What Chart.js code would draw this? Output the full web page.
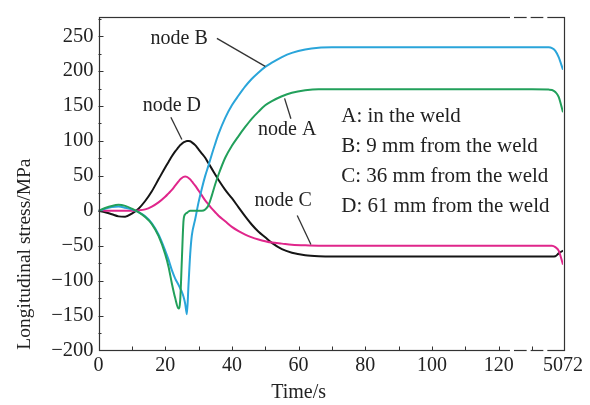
<!DOCTYPE html>
<html>
<head>
<meta charset="utf-8">
<script src="https://cdn.jsdelivr.net/npm/chart.js@4.4.1/dist/chart.umd.min.js"></script>
<style>
html,body{margin:0;padding:0;background:#fff;}
#wrap{width:590px;height:405px;position:relative;}
</style>
</head>
<body>
<div id="wrap"><canvas id="c" width="590" height="405"></canvas></div>
<script>
// ---- data (time in s; last point = 5072 s, drawn at the broken-axis end) ----
const times = [0,2,4,6,8,10,12,14,16,18,20,21,22,23,24,24.5,25,25.5,26,26.5,27,27.5,28,29,30,31,32,33,34,35,36,38,40,42,44,46,48,50,52,55,58,62,66,70,80,100,120,130,135,136,137,138,139.3];
const nodeA = [0,4,7,8.5,7,3,-2,-9,-19,-36,-62,-80,-104,-125,-140,-128,-70,-14,-5,-3,-1,0,0,0,0,0,2,8,22,38,52,76,93,107,120,132,142,151,157,164,169,172.5,174,174,174,174,174,174,173.5,173,170,163,141];
const nodeB = [0,3,5.5,6,4.5,2,-2,-8,-18,-34,-57,-70,-85,-97,-106,-111,-116,-123,-133,-148,-105,-62,-35,-12,12,32,50,65,81,96,110,133,151,165,178,189,198,206,212,220,226,231,233.5,234,234,234,234,234,234,233,229,220,202];
const nodeC = [0,0,0,0,0,0,0.5,2,6,12,20,25,30,36,42,45,47,48.5,49,48.5,47,45,42,36,29,22,15,9,3,-2,-7,-15,-23,-29,-34,-38,-41,-43.5,-45.5,-47,-48.5,-49.5,-50,-50,-50,-50,-50,-50,-50,-50,-52,-57,-77];
const nodeD = [0,-2,-5,-8,-8.5,-4,3,14,28,45,62,70,78,85,91,94,96,98,99,100,100,99.5,98,94,88,82,76,68,60,52,44,30,18,5,-8,-20,-30,-38,-46,-55,-60,-63.5,-65,-65.5,-65.5,-65.5,-65.5,-65.5,-65.5,-65.5,-65,-61,-57];
const seriesNames = ['node A','node B','node C','node D'];
const seriesColors = ['#22a05b','#2aa5da','#e0268b','#151515'];

const xTickValues = [0,20,40,60,80,100,120,139.3];
const xTickLabels = ['0','20','40','60','80','100','120','5072'];
const xMinorTicks = [10,20,30,40,50,60,70,80,90,100,110,120,130];
const yTickValues = [-200,-150,-100,-50,0,50,100,150,200,250];
const yMinorTicks = [-175,-150,-125,-100,-75,-50,-25,0,25,50,75,100,125,150,175,200,225,250,275];
const axisBreaks = [124,129,134];
const xTitle = 'Time/s';
const yTitle = 'Longitudinal stress/MPa';

const legendLines = ['A: in the weld','B: 9 mm from the weld','C: 36 mm from the weld','D: 61 mm from the weld'];
const legendAnchor = {x:72.8, y:[135,92.5,49,5.5]};
// annotation labels: text position and leader line, in data units
const notes = [
  {text:'node B', tx:24.2, ty:246, x1:35.5, y1:246.8, x2:50, y2:206.8},
  {text:'node D', tx:22, ty:150, x1:21.7, y1:134, x2:25, y2:102},
  {text:'node A', tx:56.6, ty:116, x1:57.7, y1:131.7, x2:55.8, y2:161},
  {text:'node C', tx:55.4, ty:15, x1:59.6, y1:-6.8, x2:63.7, y2:-48.2}
];

const FONT = "'Liberation Serif', 'Times New Roman', serif";
const pts = arr => arr.map((v,i)=>({x:times[i], y:v}));
const datasets = [nodeA,nodeB,nodeC,nodeD].map((arr,i)=>({
  label: seriesNames[i], data: pts(arr), borderColor: seriesColors[i],
  borderWidth: 2, pointRadius: 0, fill:false, cubicInterpolationMode:'monotone'
}));

const deco = {
  id:'deco',
  afterDraw(chart){
    const {ctx, chartArea:a, scales:{x, y}} = chart;
    ctx.save();
    // inward ticks
    ctx.strokeStyle = '#333'; ctx.lineWidth = 1;
    ctx.beginPath();
    xMinorTicks.forEach(v=>{ const px = Math.round(x.getPixelForValue(v))+0.5; ctx.moveTo(px, a.bottom); ctx.lineTo(px, a.bottom-4); });
    yMinorTicks.forEach(v=>{ const py = Math.round(y.getPixelForValue(v))+0.5; const len = (v%50===0)?5:3; ctx.moveTo(a.left, py); ctx.lineTo(a.left+len, py); });
    ctx.stroke();
    // frame
    ctx.strokeStyle = '#333'; ctx.lineWidth = 1.2;
    ctx.strokeRect(Math.round(a.left)+0.5, Math.round(a.top)+0.5, Math.round(a.right-a.left), Math.round(a.bottom-a.top));
    // axis break gaps
    ctx.fillStyle = '#fff';
    axisBreaks.forEach(v=>{ const px = x.getPixelForValue(v);
      ctx.fillRect(px-2, a.top-2, 4, 4); ctx.fillRect(px-2, a.bottom-2, 4, 4); });
    // annotations
    ctx.fillStyle = '#222'; ctx.font = "20px " + FONT; ctx.textAlign='center'; ctx.textBaseline='middle';
    ctx.strokeStyle = '#333'; ctx.lineWidth = 1.3;
    notes.forEach(n=>{
      ctx.fillText(n.text, x.getPixelForValue(n.tx), y.getPixelForValue(n.ty));
      ctx.beginPath(); ctx.moveTo(x.getPixelForValue(n.x1), y.getPixelForValue(n.y1));
      ctx.lineTo(x.getPixelForValue(n.x2), y.getPixelForValue(n.y2)); ctx.stroke();
    });
    // legend text block
    ctx.font = "21px " + FONT;
    ctx.textAlign='left';
    legendLines.forEach((t,i)=>ctx.fillText(t, x.getPixelForValue(legendAnchor.x), y.getPixelForValue(legendAnchor.y[i])));
    // axis titles
    ctx.font = "20px " + FONT; ctx.textAlign='center';
    ctx.fillText(xTitle, x.getPixelForValue(60), a.bottom + 42);
    ctx.save();
    ctx.translate(25, y.getPixelForValue(-62));
    ctx.rotate(-Math.PI/2);
    ctx.font = "19.5px " + FONT;
    ctx.fillText(yTitle, 0, 0);
    ctx.restore();
    ctx.restore();
  }
};

new Chart(document.getElementById('c'), {
  type:'line',
  data:{datasets},
  options:{
    responsive:false, animation:false, devicePixelRatio:1,
    layout:{padding:{top:12, right:27, left:0, bottom:0}},
    plugins:{legend:{display:false}, tooltip:{enabled:false}},
    scales:{
      x:{type:'linear', min:0, max:139.3,
        grid:{display:false, drawTicks:false}, border:{display:false},
        afterBuildTicks: s => { s.ticks = xTickValues.map(v=>({value:v})); },
        afterFit: s => { s.height = 54.5; },
        ticks:{color:'#222', font:{family:FONT, size:20}, padding:3, maxRotation:0, autoSkip:false,
          callback:(v)=>{ const i = xTickValues.indexOf(v); return i>=0 ? xTickLabels[i] : ''; }},
        title:{display:false}
      },
      y:{type:'linear', min:-200, max:277,
        grid:{display:false, drawTicks:false}, border:{display:false},
        afterBuildTicks: s => { s.ticks = yTickValues.map(v=>({value:v})); },
        afterFit: s => { s.width = 98.5; },
        ticks:{color:'#222', font:{family:FONT, size:20.5}, padding:5, autoSkip:false,
          callback:(v)=> v<0 ? '\u2212'+Math.abs(v) : String(v)},
        title:{display:false}
      }
    }
  },
  plugins:[deco]
});
</script>
</body>
</html>
